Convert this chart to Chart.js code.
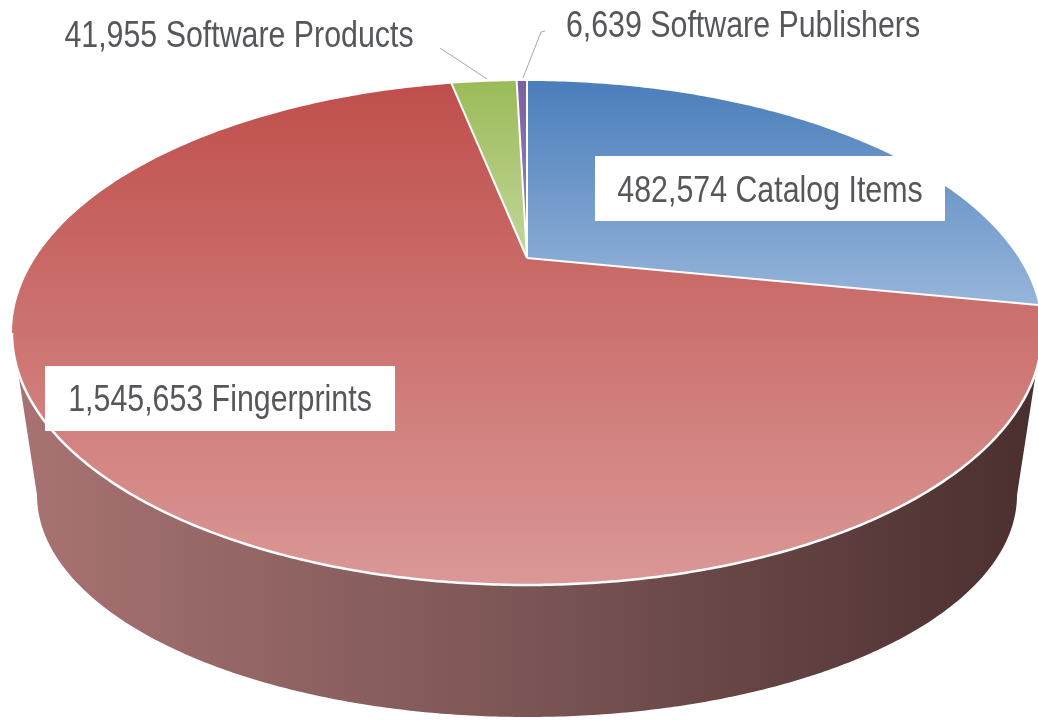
<!DOCTYPE html>
<html>
<head>
<meta charset="utf-8">
<script src="https://cdn.jsdelivr.net/npm/chart.js@4.4.1/dist/chart.umd.min.js"></script>
<style>
  html, body { margin: 0; padding: 0; background: #fff; }
  #pie3d { display: block; }
</style>
</head>
<body>
<canvas id="pie3d" width="1038" height="725"></canvas>
<script>
// data
const categories = ['Catalog Items', 'Fingerprints', 'Software Products', 'Software Publishers'];
const counts = [482574, 1545653, 41955, 6639];

// styles (top face gradient top -> bottom, side wall left -> right)
const topColors = [
  ['#4a7ebb', '#97b5da'],
  ['#bf4f4c', '#da9896'],
  ['#9bbb59', '#c3d69b'],
  ['#7b5f9f', '#9c86bb'],
];
const wallColors = [
  ['#7d98be', '#3f5a80'],
  ['#a97373', '#4a2e2e'],
  ['#95ad6a', '#5a6e34'],
  ['#8a78a8', '#4d3c66'],
];

// geometry of the tilted pie
const RX = 515, RY = 252;        // top rim ellipse
const APEX_LIFT = 75;            // apex sits above rim centre (perspective)
const BASE_DROP = 162, RX2 = 490, RY2 = 222;   // bottom rim ellipse
const TEXT_SQUEEZE = 0.82;       // narrow face
const textColor = '#55575b';

// label placement: [x centre, baseline, box or null]
const labelSpots = [
  { x: 770, y: 202, box: [595, 156, 350, 65] },
  { x: 220, y: 411, box: [45, 366, 350, 65] },
  { x: 239, y: 47, box: null, leader: [[440, 48], [487, 79]] },
  { x: 743, y: 37, box: null, leader: [[545, 31], [541, 32], [523, 78]] },
];

const fmt = (v) => v.toLocaleString('en-US');

const pie3d = {
  id: 'pie3d',
  beforeDatasetsDraw(chart) {
    const ctx = chart.ctx;
    const arcs = chart.getDatasetMeta(0).data;
    const cx = arcs[0].x, cy = arcs[0].y;
    const apex = [cx, cy - APEX_LIFT];
    const rim = (a) => [cx + RX * Math.cos(a), cy + RY * Math.sin(a)];
    const base = (a) => [cx + RX2 * Math.cos(a), cy + BASE_DROP + RY2 * Math.sin(a)];
    const sweep = (s, e, fn) => {
      const pts = [];
      const n = Math.max(2, Math.ceil((e - s) / 0.01));
      for (let k = 0; k <= n; k++) pts.push(fn(s + (e - s) * k / n));
      return pts;
    };

    ctx.save();

    // side wall, front half only (angles 0..PI in canvas terms)
    arcs.forEach((arc, i) => {
      [-2 * Math.PI, 0, 2 * Math.PI].forEach((off) => {
        const s = Math.max(arc.startAngle, off);
        const e = Math.min(arc.endAngle, off + Math.PI);
        if (e <= s) return;
        const top = sweep(s, e, rim);
        const bot = sweep(s, e, base).reverse();
        const g = ctx.createLinearGradient(cx - RX, 0, cx + RX, 0);
        g.addColorStop(0, wallColors[i][0]);
        g.addColorStop(0.5, i === 1 ? '#7b5555' : wallColors[i][0]);
        g.addColorStop(1, wallColors[i][1]);
        ctx.beginPath();
        top.concat(bot).forEach((p, k) => (k ? ctx.lineTo(p[0], p[1]) : ctx.moveTo(p[0], p[1])));
        ctx.closePath();
        ctx.fillStyle = g;
        ctx.fill();
      });
    });

    // top face slices
    arcs.forEach((arc, i) => {
      const pts = sweep(arc.startAngle, arc.endAngle, rim);
      const ys = pts.map((p) => p[1]).concat(apex[1]);
      const g = ctx.createLinearGradient(0, Math.min(...ys), 0, Math.max(...ys));
      g.addColorStop(0, topColors[i][0]);
      g.addColorStop(1, topColors[i][1]);
      ctx.beginPath();
      ctx.moveTo(apex[0], apex[1]);
      pts.forEach((p) => ctx.lineTo(p[0], p[1]));
      ctx.closePath();
      ctx.fillStyle = g;
      ctx.fill();
    });

    // white seams between slices and along the front rim
    ctx.strokeStyle = '#ffffff';
    ctx.lineWidth = 2;
    arcs.forEach((arc) => {
      const p = rim(arc.startAngle);
      ctx.beginPath();
      ctx.moveTo(apex[0], apex[1]);
      ctx.lineTo(p[0], p[1]);
      ctx.stroke();
    });
    ctx.lineWidth = 2.5;
    ctx.beginPath();
    sweep(0, Math.PI, rim).forEach((p, k) => (k ? ctx.lineTo(p[0], p[1]) : ctx.moveTo(p[0], p[1])));
    ctx.stroke();

    // data labels
    ctx.font = '37px "Liberation Sans", Arial, sans-serif';
    ctx.textBaseline = 'alphabetic';
    ctx.textAlign = 'center';
    arcs.forEach((arc, i) => {
      const spot = labelSpots[i];
      if (spot.leader) {
        ctx.strokeStyle = '#a6a6a6';
        ctx.lineWidth = 1;
        ctx.beginPath();
        spot.leader.forEach((p, k) => (k ? ctx.lineTo(p[0], p[1]) : ctx.moveTo(p[0], p[1])));
        ctx.stroke();
      }
      if (spot.box) {
        ctx.fillStyle = '#ffffff';
        ctx.fillRect(spot.box[0], spot.box[1], spot.box[2], spot.box[3]);
      }
      ctx.save();
      ctx.translate(spot.x, spot.y);
      ctx.scale(TEXT_SQUEEZE, 1);
      ctx.fillStyle = textColor;
      ctx.fillText(fmt(counts[i]) + ' ' + categories[i], 0, 0);
      ctx.restore();
    });

    ctx.restore();
    return false;
  }
};

new Chart(document.getElementById('pie3d'), {
  type: 'pie',
  data: {
    labels: categories,
    datasets: [{
      data: counts,
      backgroundColor: topColors.map((c) => c[0]),
      borderWidth: 0,
    }],
  },
  options: {
    responsive: false,
    animation: false,
    devicePixelRatio: 1,
    layout: { padding: { left: 16, right: 0, top: 0, bottom: 59 } },
    plugins: {
      legend: { display: false },
      tooltip: { enabled: false },
    },
  },
  plugins: [pie3d],
});
</script>
</body>
</html>
